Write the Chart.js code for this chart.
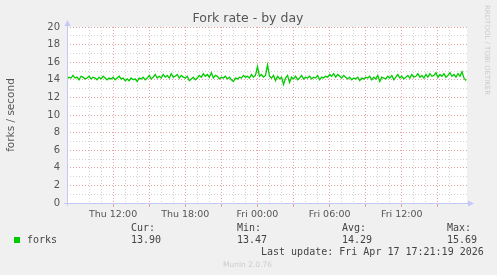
<!DOCTYPE html>
<html>
<head>
<meta charset="utf-8">
<script src="https://cdn.jsdelivr.net/npm/chart.js@4"></script>
<style>
  html, body { margin: 0; padding: 0; background: #f0f0f0; }
  #wrap { width: 497px; height: 275px; position: relative; }
</style>
</head>
<body>
<div id="wrap"><canvas id="forkChart" width="497" height="275"></canvas></div>
<script>
// hours counted from Thu 00:00, one sample every 10 minutes
const startHour = 8.17;
const stepHours = 1 / 6;

const forkValues = [
  14.1, 14.3, 14.2, 14.5, 14.2, 14.3, 14.0, 14.4, 14.3, 14.1,
  14.2, 14.4, 14.1, 14.3, 14.2, 14.0, 14.3, 14.1, 14.4, 14.2,
  14.0, 14.2, 14.1, 14.3, 14.0, 14.2, 14.4, 14.1, 14.2, 13.9,
  14.1, 13.9, 14.2, 14.0, 14.1, 13.8, 14.2, 14.1, 14.3, 14.0,
  14.2, 14.5, 14.1, 14.3, 14.6, 14.2, 14.4, 14.2, 14.6, 14.3,
  14.5, 14.2, 14.7, 14.3, 14.4, 14.6, 14.2, 14.5, 14.3, 14.2,
  14.4, 13.9, 14.1, 14.3, 14.0, 14.2, 14.5, 14.3, 14.7, 14.4,
  14.6, 14.3, 14.8, 14.2, 14.5, 14.4, 14.1, 14.3, 14.2, 14.4,
  14.1, 14.3, 14.0, 13.8, 14.2, 14.1, 14.3, 14.2, 14.5, 14.3,
  14.4, 14.2, 14.6, 14.3, 14.5, 15.5, 14.4, 14.6, 14.3, 14.5,
  15.69, 14.4, 14.2, 14.5, 13.9, 14.4, 14.1, 14.3, 13.47, 14.2,
  14.5, 13.7, 14.3, 14.1, 14.4, 14.0, 14.2, 14.5, 14.1, 14.3,
  14.2, 14.4, 14.1, 14.3, 14.2, 14.5, 14.0, 14.3, 14.2, 14.4,
  14.3, 14.6, 14.4, 14.7, 14.3, 14.6, 14.4, 14.2, 14.5, 14.3,
  14.1, 14.3, 14.0, 14.2, 14.1, 14.3, 13.9, 14.2, 14.1, 14.3,
  14.2, 14.4, 14.0, 14.3, 14.1, 14.5, 13.8, 14.3, 14.2, 14.1,
  14.4, 14.2, 14.5, 14.0, 14.3, 14.6, 14.2, 14.4, 14.1, 14.3,
  14.5, 14.2, 14.6, 14.3, 14.4, 14.7, 14.3, 14.5, 14.2, 14.6,
  14.3, 14.7, 14.4, 14.5, 14.8, 14.3, 14.6, 14.4, 14.7, 14.3,
  14.5, 14.8, 14.4, 14.6, 14.3, 14.7, 14.4, 14.9, 14.2, 13.9
];

// x tick labels every 6 hours
const xTickHours = [12, 18, 24, 30, 36];
const xTickLabels = ['Thu 12:00', 'Thu 18:00', 'Fri 00:00', 'Fri 06:00', 'Fri 12:00'];

const statNames = ['Cur:', 'Min:', 'Avg:', 'Max:'];
const statValues = ['13.90', '13.47', '14.29', '15.69'];

const points = forkValues.map((v, i) => ({ x: startHour + i * stepHours, y: v }));

const majorGrid = 'rgba(225, 140, 140, 0.8)';
const minorGrid = 'rgba(180, 180, 180, 0.6)';
const axisBlue = '#c4c8f4';

const munin = {
  id: 'munin',
  beforeDraw(chart) {
    const c = chart.ctx, a = chart.chartArea;
    c.save();
    c.fillStyle = '#f0f0f0';
    c.fillRect(0, 0, chart.width, chart.height);
    c.fillStyle = '#ffffff';
    c.fillRect(a.left, a.top, a.right - a.left, a.bottom - a.top);
    c.restore();
  },
  afterDraw(chart) {
    const c = chart.ctx, a = chart.chartArea;
    c.save();
    // axes and arrows
    c.strokeStyle = axisBlue;
    c.lineWidth = 1;
    c.beginPath();
    c.moveTo(a.left + 0.5, a.bottom + 3);
    c.lineTo(a.left + 0.5, a.top - 3);
    c.moveTo(a.left - 3, a.bottom + 0.5);
    c.lineTo(a.right + 3, a.bottom + 0.5);
    c.stroke();
    c.fillStyle = axisBlue;
    c.beginPath();
    c.moveTo(a.left - 2.5, a.top - 1);
    c.lineTo(a.left + 3.5, a.top - 1);
    c.lineTo(a.left + 0.5, a.top - 7);
    c.closePath();
    c.fill();
    c.beginPath();
    c.moveTo(a.right + 1, a.bottom - 2.5);
    c.lineTo(a.right + 1, a.bottom + 3.5);
    c.lineTo(a.right + 7, a.bottom + 0.5);
    c.closePath();
    c.fill();

    // title
    c.fillStyle = '#555555';
    c.font = '12.5px "DejaVu Sans"';
    c.textAlign = 'center';
    c.textBaseline = 'middle';
    c.fillText('Fork rate - by day', 248, 19);

    // y axis title
    c.save();
    c.translate(11, 115);
    c.rotate(-Math.PI / 2);
    c.font = '10.5px "DejaVu Sans"';
    c.fillText('forks / second', 0, 0);
    c.restore();

    // side credit
    c.save();
    c.translate(487, 5);
    c.rotate(Math.PI / 2);
    c.fillStyle = '#cccccc';
    c.font = '7px "DejaVu Sans"';
    c.textAlign = 'left';
    c.fillText('RRDTOOL / TOBI OETIKER', 0, 0);
    c.restore();

    // legend
    c.fillStyle = '#00cc00';
    c.fillRect(14, 237, 6, 6);
    c.fillStyle = '#444444';
    c.font = '10px "DejaVu Sans Mono"';
    c.textAlign = 'left';
    c.fillText('forks', 27, 240);
    const statX = [131, 237, 342, 447];
    statNames.forEach((n, i) => {
      c.fillText(n, statX[i], 228);
      c.fillText(statValues[i], statX[i], 240);
    });
    c.fillText('Last update: Fri Apr 17 17:21:19 2026', 261, 252);

    c.fillStyle = '#cccccc';
    c.font = '7.5px "DejaVu Sans"';
    c.fillText('Munin 2.0.76', 223, 265);
    c.restore();
  }
};

new Chart(document.getElementById('forkChart').getContext('2d'), {
  type: 'line',
  data: {
    datasets: [{
      label: 'forks',
      data: points,
      borderColor: '#00cc00',
      borderWidth: 1.3,
      pointRadius: 0,
      tension: 0,
      fill: false
    }]
  },
  options: {
    responsive: false,
    animation: false,
    events: [],
    layout: { padding: { left: 0, top: 27, right: 30, bottom: 52 } },
    plugins: { legend: { display: false }, tooltip: { enabled: false } },
    scales: {
      x: {
        type: 'linear',
        min: 8.17,
        max: 41.42,
        afterBuildTicks: s => {
          s.ticks = s.ticks.filter(t => Math.abs(t.value - Math.round(t.value)) < 1e-6);
        },
        afterFit: s => { s.height = 20; },
        ticks: {
          stepSize: 1,
          autoSkip: false,
          maxRotation: 0,
          padding: 2,
          color: '#555555',
          font: { family: 'DejaVu Sans', size: 9.5 },
          callback: v => {
            const i = xTickHours.indexOf(Math.round(v));
            return i >= 0 ? xTickLabels[i] : '';
          }
        },
        grid: {
          color: ctx => (Math.round(ctx.tick.value) % 3 === 0 ? majorGrid : minorGrid),
          tickColor: ctx => (Math.round(ctx.tick.value) % 3 === 0 ? majorGrid : 'rgba(0,0,0,0)'),
          tickLength: 4,
          lineWidth: 1
        },
        border: { display: false, dash: [1, 2] }
      },
      y: {
        min: 0,
        max: 20,
        afterFit: s => { s.width = 67; },
        ticks: {
          stepSize: 1,
          autoSkip: false,
          padding: 7,
          color: '#555555',
          font: { family: 'DejaVu Sans', size: 10 },
          callback: v => (v % 2 === 0 ? String(v) : '')
        },
        grid: {
          color: ctx => (ctx.tick.value % 2 === 0 ? majorGrid : minorGrid),
          drawTicks: false,
          lineWidth: 1
        },
        border: { display: false, dash: [1, 2] }
      }
    }
  },
  plugins: [munin]
});
</script>
</body>
</html>
